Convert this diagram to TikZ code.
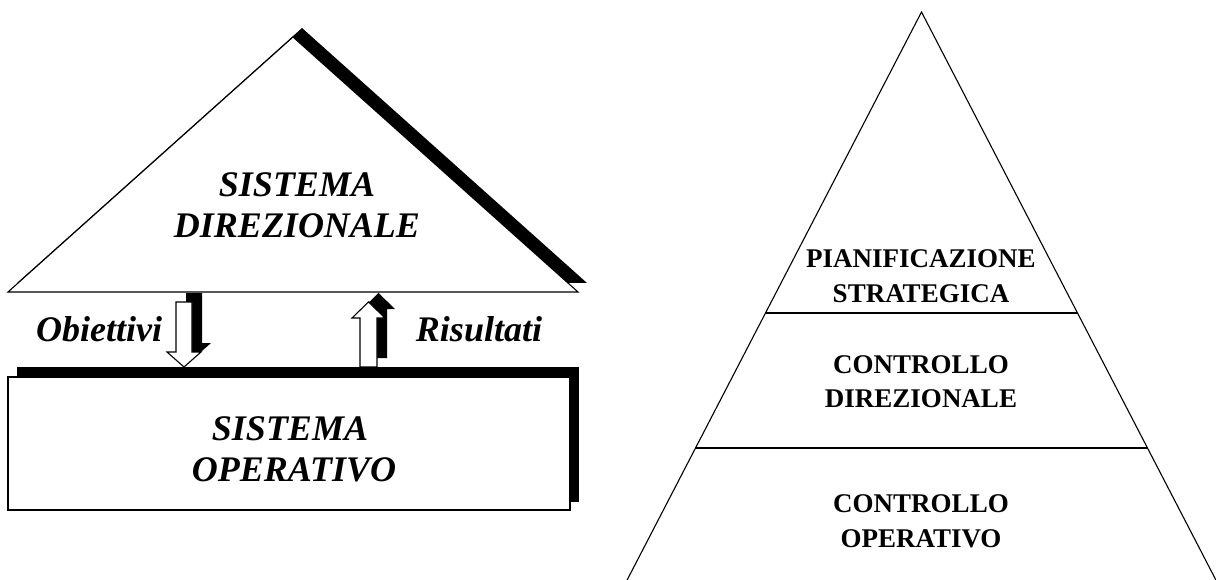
\documentclass[tikz,border=0pt]{standalone}
\usepackage{fontspec}
\setmainfont{Liberation Serif}
\tikzset{
  shadowfill/.style={fill=black, draw=none},
  facefill/.style={fill=white, draw=black, line width=1.1pt, line join=miter},
  thinline/.style={draw=black, line width=1.1pt},
  bigital/.style={font=\fontsize{36}{41}\selectfont\bfseries\itshape, inner sep=0pt, anchor=base},
  pyrtext/.style={font=\fontsize{27}{34}\selectfont\bfseries, inner sep=0pt, anchor=base},
  roofshape/.pic={\path[pic actions] (8,292) -- (293,37) -- (578,292) -- cycle;},
  downarr/.pic={\path[pic actions] (176,302) -- (192,302) -- (192,352) -- (201,352) -- (184,367) -- (167,352) -- (176,352) -- cycle;},
  uparr/.pic={\path[pic actions] (360,367) -- (377,367) -- (377,318) -- (385,318) -- (368.5,302) -- (352,318) -- (360,318) -- cycle;}
}
\begin{document}
\begin{tikzpicture}[x=1pt,y=-1pt]
\useasboundingbox (0,0) rectangle (1216,580);
\clip (0,0) rectangle (1216,580);
% ---------- left: roof ----------
\pic[shadowfill, shift={(9,-9)}] {roofshape};
\pic[facefill] {roofshape};
\node[bigital] (sd1) at (297,197) {SISTEMA};
\node[bigital] (sd2) at (297,238) {DIREZIONALE};
% ---------- arrows ----------
\pic[shadowfill, shift={(10,-9)}] {downarr};
\pic[facefill] {downarr};
\pic[shadowfill, shift={(10,-9)}] {uparr};
\pic[facefill] {uparr};
\node[bigital] (obj) at (99,341) {Obiettivi};
\node[bigital] (ris) at (479,341) {Risultati};
% ---------- left: box ----------
\path[shadowfill] (17,367) rectangle (579,502);
\path[facefill] (8,377) rectangle (570,510);
\node[bigital] (so1) at (290,440) {SISTEMA};
\node[bigital] (so2) at (294,481) {OPERATIVO};
% ---------- right: pyramid ----------
\coordinate (apex) at (921.5,12);
\coordinate (bl) at (624,586);
\coordinate (br) at (1219,586);
\coordinate (l1a) at (765.4,313);
\coordinate (l1b) at (1077.6,313);
\coordinate (l2a) at (695.4,448);
\coordinate (l2b) at (1147.6,448);
\draw[thinline] (bl) -- (apex) -- (br);
\draw[thinline] (l1a) -- (l1b);
\draw[thinline] (l2a) -- (l2b);
\node[pyrtext] (p1) at (921,268) {PIANIFICAZIONE};
\node[pyrtext] (p2) at (921,302) {STRATEGICA};
\node[pyrtext] (c1) at (921,373) {CONTROLLO};
\node[pyrtext] (c2) at (921,407) {DIREZIONALE};
\node[pyrtext] (o1) at (921,512) {CONTROLLO};
\node[pyrtext] (o2) at (921,547) {OPERATIVO};
\end{tikzpicture}
\end{document}
